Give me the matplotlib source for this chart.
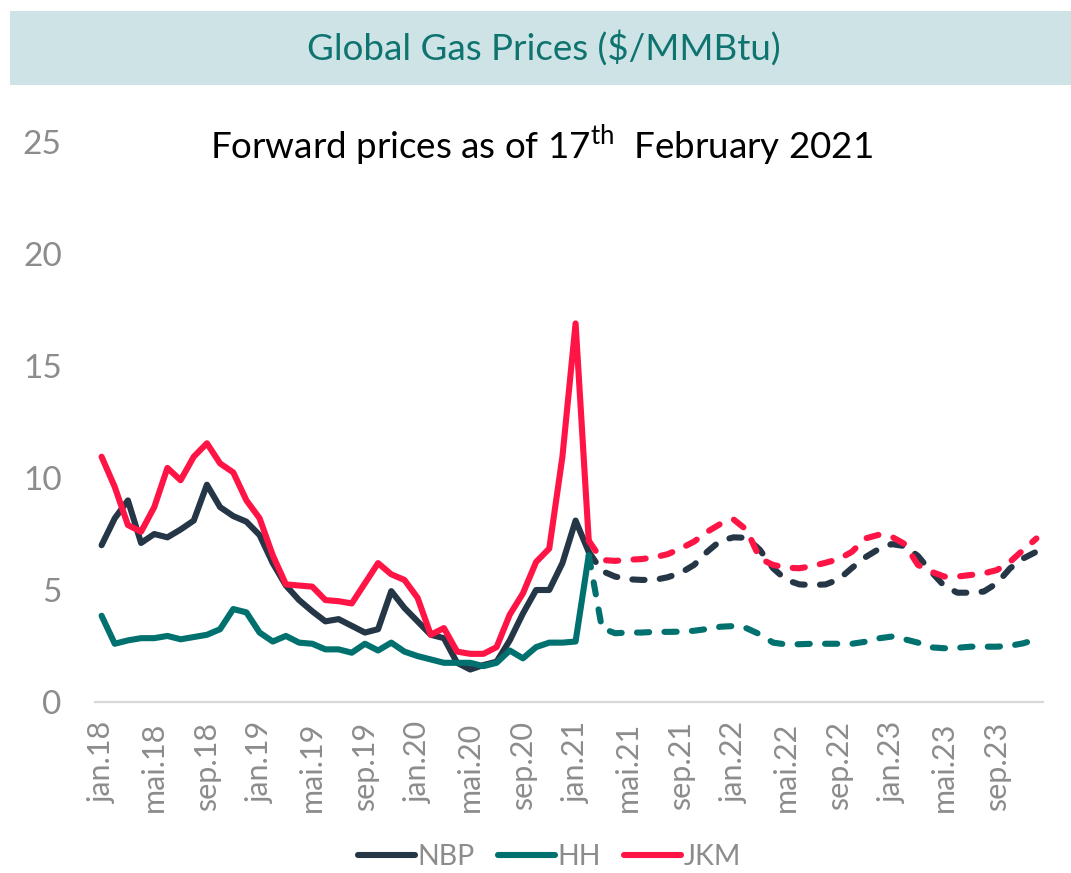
import matplotlib.pyplot as plt
from matplotlib.patches import Rectangle

plt.rcParams["font.family"] = ["Lato", "DejaVu Sans"]
plt.rcParams["mathtext.fontset"] = "custom"
plt.rcParams["mathtext.rm"] = "Lato"

# monthly labels jan.18 .. des.23
month_names = ["jan", "feb", "mar", "apr", "mai", "jun",
               "jul", "aug", "sep", "okt", "nov", "des"]
months = [f"{m}.{y}" for y in range(18, 24) for m in month_names]

# historical spot prices jan.18 .. feb.21
nbp_hist = [7.0, 8.2, 9.0, 7.1, 7.5, 7.35, 7.7, 8.1, 9.7, 8.7,
            8.3, 8.05, 7.45, 6.2, 5.2, 4.55, 4.05, 3.6, 3.7, 3.4,
            3.1, 3.25, 4.95, 4.2, 3.6, 3.0, 2.85, 1.75, 1.45, 1.65,
            1.8, 2.75, 3.95, 5.0, 5.0, 6.2, 8.1, 6.7]
hh_hist = [3.85, 2.6, 2.75, 2.85, 2.85, 2.95, 2.8, 2.9, 3.0, 3.25,
           4.15, 4.0, 3.1, 2.7, 2.95, 2.65, 2.6, 2.35, 2.35, 2.2,
           2.6, 2.3, 2.65, 2.25, 2.05, 1.9, 1.75, 1.75, 1.75, 1.6,
           1.75, 2.3, 1.95, 2.45, 2.65, 2.65, 2.7, 6.55]
jkm_hist = [10.95, 9.6, 7.9, 7.6, 8.7, 10.45, 9.9, 10.95, 11.55, 10.65,
            10.25, 9.0, 8.2, 6.55, 5.25, 5.2, 5.15, 4.55, 4.5, 4.4,
            5.3, 6.2, 5.7, 5.45, 4.65, 3.0, 3.3, 2.25, 2.15, 2.15,
            2.45, 3.9, 4.85, 6.25, 6.85, 10.95, 16.9, 7.2]

# forward curves feb.21 .. des.23
nbp_fwd = [6.7, 5.85, 5.6, 5.48, 5.45, 5.45, 5.57, 5.77, 6.12, 6.71, 7.2,
           7.35, 7.33, 6.79, 5.97, 5.45, 5.25, 5.22, 5.25, 5.48, 5.99,
           6.46, 6.82, 7.05, 6.96, 6.52, 5.82, 5.18, 4.88, 4.88, 4.93,
           5.3, 5.97, 6.41, 6.71]
hh_fwd = [6.55, 3.3, 3.07, 3.1, 3.1, 3.13, 3.13, 3.14, 3.18, 3.26, 3.36,
          3.39, 3.29, 3.02, 2.65, 2.57, 2.58, 2.6, 2.6, 2.6, 2.6,
          2.69, 2.84, 2.92, 2.8, 2.65, 2.44, 2.4, 2.42, 2.47, 2.47,
          2.47, 2.51, 2.62, 2.8]
jkm_fwd = [7.2, 6.34, 6.3, 6.35, 6.38, 6.46, 6.6, 6.86, 7.16, 7.6, 7.95,
           8.15, 7.68, 6.4, 6.12, 6.0, 5.97, 6.07, 6.22, 6.38, 6.71,
           7.3, 7.46, 7.38, 7.05, 6.12, 5.82, 5.6, 5.6, 5.67, 5.74,
           5.89, 6.26, 6.79, 7.3]

series = [
    ("NBP", nbp_hist, nbp_fwd, "#253746"),
    ("HH", hh_hist, hh_fwd, "#00716f"),
    ("JKM", jkm_hist, jkm_fwd, "#ff1446"),
]

fig = plt.figure(figsize=(10.71, 8.73), dpi=100)

# header banner
fig.patches.append(Rectangle((10 / 1071, 1 - 85 / 873), 1 - 10 / 1071, 74 / 873,
                             transform=fig.transFigure, facecolor="#cee3e6",
                             edgecolor="none", zorder=0))
fig.text(0.508, 1 - 48 / 873, "Global Gas Prices ($/MMBtu)", ha="center",
         va="center", fontsize=26.5, color="#0f7470")
fig.text(0.506, 1 - 145 / 873, r"Forward prices as of 17$^{\mathrm{th}}$  February 2021",
         ha="center", va="center", fontsize=26.5, color="black")

ax = fig.add_axes([95 / 1071, 1 - 702 / 873, 948 / 1071, 560 / 873])

n_hist = len(nbp_hist)
x_hist = list(range(n_hist))
x_fwd = list(range(n_hist - 1, n_hist - 1 + len(nbp_fwd)))

for label, hist, fwd, color in series:
    ax.plot(x_hist, hist, color=color, lw=4.4, label=label,
            solid_capstyle="round", solid_joinstyle="round")
    ax.plot(x_fwd, fwd, color=color, lw=4.4, linestyle=(0, (2, 2.5)),
            dash_capstyle="round", dash_joinstyle="round")

ax.set_xlim(-0.5, len(months) - 0.5)
ax.set_ylim(0, 25)
ax.set_yticks([0, 5, 10, 15, 20, 25])
ax.set_xticks(range(0, len(months), 4))
ax.set_xticklabels(months[::4], rotation=90)

for side in ["top", "right", "left"]:
    ax.spines[side].set_visible(False)
ax.spines["bottom"].set_color("#d9d9d9")
ax.spines["bottom"].set_linewidth(1.6)

ax.tick_params(axis="y", length=0, pad=24, labelsize=24, labelcolor="#8c8c8c")
ax.tick_params(axis="x", length=0, pad=14, labelsize=22, labelcolor="#8c8c8c")

leg = fig.legend(loc="center", bbox_to_anchor=(0.513, 1 - 857 / 873), ncol=3,
                 frameon=False, fontsize=20.5, handlelength=2.0,
                 handletextpad=0.1, columnspacing=0.8)
for t in leg.get_texts():
    t.set_color("#8c8c8c")

fig.savefig("out.png", dpi=100)
plt.close(fig)
